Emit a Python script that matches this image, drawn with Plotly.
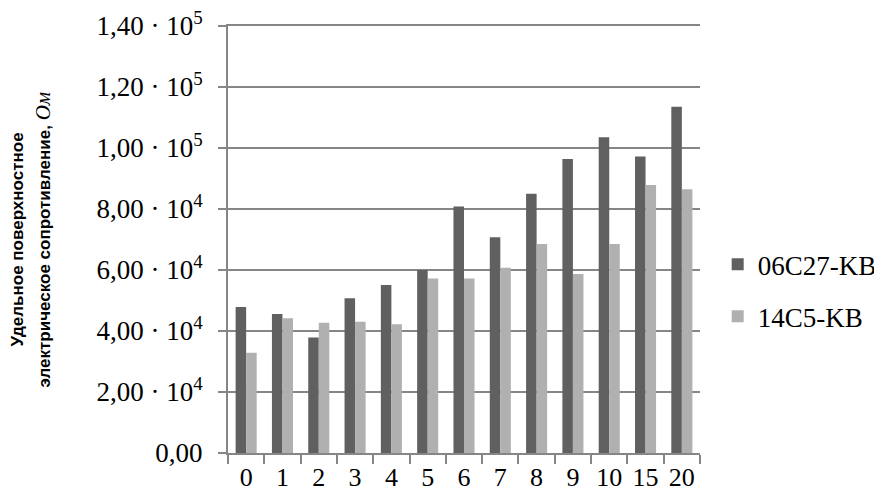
import plotly.graph_objects as go

categories = ["0", "1", "2", "3", "4", "5", "6", "7", "8", "9", "10", "15", "20"]
series_06c27 = [47900, 45600, 37900, 50700, 55100, 60000, 80800, 70700, 85000, 96400, 103500, 97200, 113500]
series_14c5 = [32900, 44200, 42700, 43000, 42200, 57200, 57200, 60700, 68500, 58700, 68500, 87900, 86500]
y_tickvals = [0, 20000, 40000, 60000, 80000, 100000, 120000, 140000]
y_ticktext = ["0,00", "2,00 · 10<sup>4</sup>", "4,00 · 10<sup>4</sup>", "6,00 · 10<sup>4</sup>",
              "8,00 · 10<sup>4</sup>", "1,00 · 10<sup>5</sup>", "1,20 · 10<sup>5</sup>", "1,40 · 10<sup>5</sup>"]

serif = "Liberation Serif"

fig = go.Figure()
fig.add_trace(go.Bar(x=categories, y=series_06c27, name="06C27-KB", legendgroup="a",
                     marker=dict(color="#606060", line=dict(width=0))))
fig.add_trace(go.Bar(x=categories, y=series_14c5, name="14C5-KB", legendgroup="b",
                     marker=dict(color="#b0b0b0", line=dict(width=0))))

# the page body adds an 8px margin, so the figure is drawn 8px smaller
fig.update_layout(
    width=874, height=496,
    margin=dict(l=220, r=182, t=18, b=51),
    plot_bgcolor="white", paper_bgcolor="white",
    barmode="group", bargap=0.42, bargroupgap=0,
    font=dict(family=serif, color="black"),
    legend=dict(xref="container", yref="container", x=0.812, xanchor="left",
                y=0.43, yanchor="middle", traceorder="grouped", tracegroupgap=14,
                font=dict(family=serif, size=27, color="black"), itemwidth=30),
    showlegend=True,
)
fig.update_xaxes(
    type="category", tickson="boundaries", ticks="outside", ticklen=9, tickangle=0,
    tickcolor="#868686", tickwidth=2, showline=True, mirror=True,
    linecolor="#868686", linewidth=2,
    showgrid=False, automargin=False, tickfont=dict(family=serif, size=26, color="black"),
)
fig.update_yaxes(
    range=[0, 140000], tickvals=y_tickvals, ticktext=y_ticktext,
    ticks="outside", ticklen=8, tickcolor="#868686", tickwidth=2,
    showline=True, linecolor="#868686", linewidth=2, ticklabelstandoff=10,
    ticklabeloverflow="allow",
    showgrid=True, gridcolor="#868686", gridwidth=2, zeroline=False, automargin=False,
    tickfont=dict(family=serif, size=27, color="black"),
)
title_font = dict(family="Liberation Sans", size=17, color="black", weight="bold")
fig.add_annotation(
    text="Удельное поверхностное",
    xref="paper", yref="paper", x=0, y=0.5, xshift=-211, yshift=0,
    xanchor="center", yanchor="middle", textangle=-90, showarrow=False, font=title_font,
)
fig.add_annotation(
    text="электрическое сопротивление, "
         "<span style='font-family:Liberation Serif;font-weight:normal;font-size:21px'><i>Ом</i></span>",
    xref="paper", yref="paper", x=0, y=0.5, xshift=-186, yshift=0,
    xanchor="center", yanchor="middle", textangle=-90, showarrow=False, font=title_font,
)

fig.write_html("out.html")
